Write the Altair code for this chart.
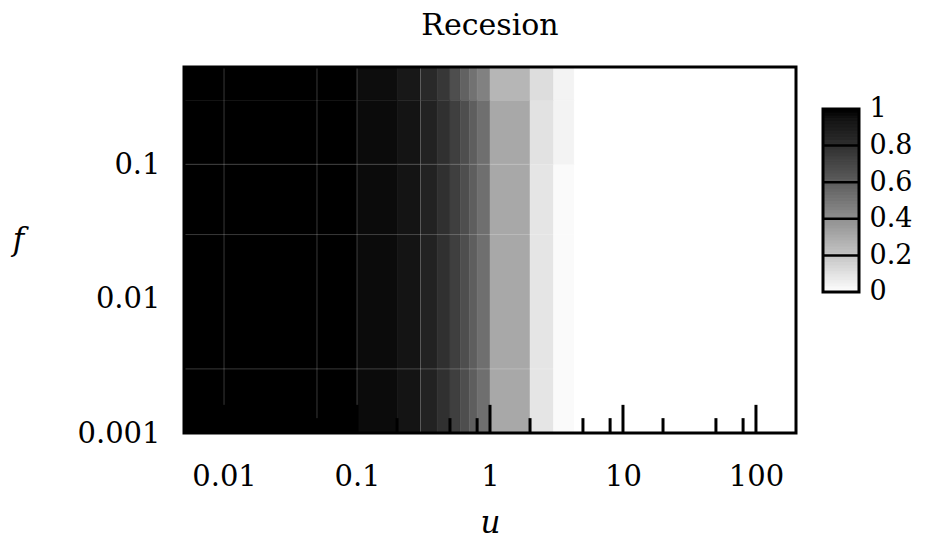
import altair as alt
import pandas as pd

# band edges of the density map
u_edges = [0.005, 0.1, 0.2, 0.3, 0.4, 0.5, 0.6, 0.7, 0.8, 1, 2, 3, 4.3, 200]
f_edges = [0.001, 0.1, 0.3, 0.53]
# value in each u band, one list per f band (bottom, middle, top)
row_low = [1.0, 0.97, 0.935, 0.867, 0.80, 0.733, 0.667, 0.60, 0.533, 0.31, 0.09, 0.016, 0.0]
row_mid = [1.0, 0.97, 0.935, 0.867, 0.80, 0.733, 0.667, 0.60, 0.533, 0.31, 0.10, 0.04, 0.0]
row_top = [1.0, 0.965, 0.92, 0.835, 0.77, 0.667, 0.584, 0.52, 0.46, 0.26, 0.12, 0.04, 0.0]
rows = [row_low, row_mid, row_top]

# inner tick marks along the u axis
major_ticks = [0.01, 0.1, 1, 10, 100]
minor_ticks = [0.02, 0.05, 0.08, 0.2, 0.5, 0.8, 2, 5, 8, 20, 50, 80]
major_top = 0.00162
minor_top = 0.00129

# faint mesh lines
grid_u = [0.01, 0.05, 0.1, 0.3]
grid_f = [0.003, 0.03, 0.1]

x_ticks = [0.01, 0.1, 1, 10, 100]
y_ticks = [0.001, 0.01, 0.1]
bar_labels = [0, 0.2, 0.4, 0.6, 0.8, 1]
bar_lines = [0.2, 0.4, 0.6, 0.8]
bar_steps = 60

cells = []
for j, row in enumerate(rows):
    for i, v in enumerate(row):
        cells.append({"u0": u_edges[i], "u1": u_edges[i + 1],
                      "f0": f_edges[j], "f1": f_edges[j + 1], "v": v})
cells = pd.DataFrame(cells)

ticks = pd.DataFrame(
    [{"u": t, "f0": f_edges[0], "f1": major_top} for t in major_ticks]
    + [{"u": t, "f0": f_edges[0], "f1": minor_top} for t in minor_ticks]
)
gu = pd.DataFrame({"u": grid_u})
gf = pd.DataFrame({"f": grid_f})

bar = pd.DataFrame({
    "lo": [k / bar_steps for k in range(bar_steps)],
    "hi": [(k + 1) / bar_steps for k in range(bar_steps)],
})
bar["v"] = (bar["lo"] + bar["hi"]) / 2
bar_rules = pd.DataFrame({"v": bar_lines})
bar_box = pd.DataFrame({"lo": [0.0], "hi": [1.0]})

FONT = "DejaVu Serif"
W, H = 612, 366
BX0, BX1 = 639, 675   # colour bar left/right, relative to plot area
xs = alt.Scale(type="log", domain=[u_edges[0], u_edges[-1]], nice=False)
ys = alt.Scale(type="log", domain=[f_edges[0], f_edges[-1]], nice=False)
cs = alt.Scale(domain=[0, 1], range=["#ffffff", "#000000"])
bs = alt.Scale(domain=[-0.7705, 1.2295], nice=False, zero=False)

heat = alt.Chart(cells).mark_rect(strokeWidth=0.5).encode(
    x=alt.X("u0:Q", scale=xs, axis=alt.Axis(
        values=x_ticks, format="~g", title="u", grid=False, ticks=False, domain=False,
        labelFont=FONT, labelFontSize=29, labelPadding=29, labelColor="black",
        titleFont=FONT, titleFontSize=31, titleFontStyle="italic", titleFontWeight="normal",
        titleX=W / 2, titleY=90, titleBaseline="middle", titleColor="black")),
    x2="u1:Q",
    y=alt.Y("f0:Q", scale=ys, axis=alt.Axis(
        orient="left",
        values=y_ticks, format="~g", title="f", grid=False, ticks=False, domain=False,
        labelFont=FONT, labelFontSize=29, labelPadding=24, labelColor="black",
        titleFont=FONT, titleFontSize=31, titleFontStyle="italic", titleFontWeight="normal",
        titleAngle=0, titleX=-166, titleY=173, titleAlign="center", titleBaseline="middle",
        titleColor="black")),
    y2="f1:Q",
    color=alt.Color("v:Q", scale=cs, legend=None),
    stroke=alt.Stroke("v:Q", scale=cs, legend=None),
)

vgrid = alt.Chart(gu).mark_rule(color="white", opacity=0.22, strokeWidth=1).encode(
    x=alt.X("u:Q", scale=xs))
hgrid = alt.Chart(gf).mark_rule(color="white", opacity=0.22, strokeWidth=1).encode(
    y=alt.Y("f:Q", scale=ys))

tick_layer = alt.Chart(ticks).mark_rule(color="black", strokeWidth=3).encode(
    x=alt.X("u:Q", scale=xs), y=alt.Y("f0:Q", scale=ys), y2="f1:Q")

frame = alt.Chart(pd.DataFrame({"a": [0]})).mark_rect(
    filled=False, stroke="black", strokeWidth=3).encode(
    x=alt.value(0), x2=alt.value(W), y=alt.value(0), y2=alt.value(H))

main = alt.layer(heat, vgrid, hgrid, tick_layer, frame)

# colour bar
bar_fill = alt.Chart(bar).mark_rect(strokeWidth=1).encode(
    x=alt.value(BX0), x2=alt.value(BX1),
    y=alt.Y("lo:Q", scale=bs, axis=alt.Axis(
        orient="right", offset=BX1 - W, values=bar_labels, format="~g", title=None,
        grid=False, ticks=False, domain=False, labelFont=FONT, labelFontSize=27,
        labelPadding=10, labelColor="black", labelBaseline="middle", labelOverlap=False)),
    y2="hi:Q",
    color=alt.Color("v:Q", scale=cs, legend=None),
    stroke=alt.Stroke("v:Q", scale=cs, legend=None),
)
bar_sep = alt.Chart(bar_rules).mark_rule(color="black", strokeWidth=2.5).encode(
    x=alt.value(BX0), x2=alt.value(BX1), y=alt.Y("v:Q", scale=bs))
bar_frame = alt.Chart(bar_box).mark_rect(filled=False, stroke="black", strokeWidth=3).encode(
    x=alt.value(BX0), x2=alt.value(BX1), y=alt.Y("lo:Q", scale=bs), y2="hi:Q")
colorbar = alt.layer(bar_fill, bar_sep, bar_frame)

chart = alt.layer(main, colorbar).resolve_scale(y="independent").properties(
    width=W, height=H,
    title=alt.Title("Recesion", font=FONT, fontSize=30, fontWeight="normal",
                    anchor="middle", offset=25, color="black"),
    autosize=alt.AutoSizeParams(type="none"),
    padding={"left": 184, "top": 67, "right": 133, "bottom": 111},
).configure_view(stroke=None).configure(background="white")

chart.save("out.html", embed_options={"renderer": "svg", "actions": False})
